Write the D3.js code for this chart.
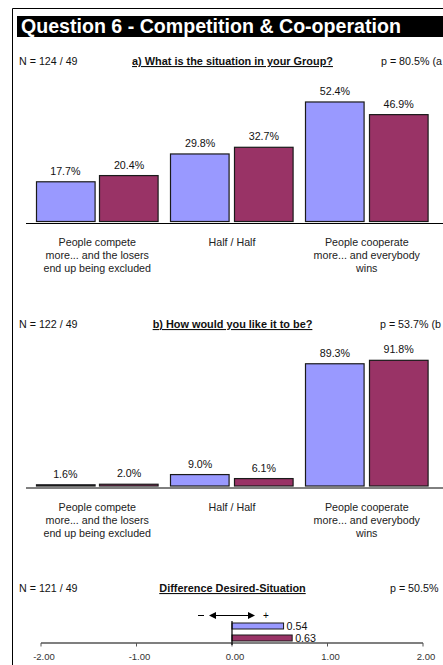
<!DOCTYPE html>
<html><head><meta charset="utf-8">
<script src="https://cdn.jsdelivr.net/npm/d3@7"></script>
<style>
html,body{margin:0;padding:0;background:#fff;overflow:hidden}
svg{display:block}
text{font-family:"Liberation Sans",Arial,sans-serif;fill:#111}
</style></head><body>
<script>
// ---- data ----
const title = "Question 6 - Competition & Co-operation";
const categories = [
  ["People compete","more... and the losers","end up being excluded"],
  ["Half / Half"],
  ["People cooperate","more... and everybody","wins"]
];
const seriesNames = ["Group A","Group B"];
const situationA = [17.7, 29.8, 52.4];
const situationB = [20.4, 32.7, 46.9];
const desiredA = [1.6, 9.0, 89.3];
const desiredB = [2.0, 6.1, 91.8];
const diffValues = [0.54, 0.63];
const diffTicks = [-2, -1, 0, 1, 2];
const headers = [
  {n:"N = 124 / 49", q:"a) What is the situation in your Group?", p:"p = 80.5% (a"},
  {n:"N = 122 / 49", q:"b) How would you like it to be?", p:"p = 53.7% (b"},
  {n:"N = 121 / 49", q:"Difference Desired-Situation", p:"p = 50.5%"}
];
const colors = ["#9999FF","#993366"];

const W = 443, H = 665, FS = 10.7;
const svg = d3.select("body").append("svg").attr("width",W).attr("height",H);

// frame
svg.append("line").attr("x1",12.5).attr("x2",W).attr("y1",8.5).attr("y2",8.5).attr("stroke","#000");
svg.append("line").attr("x1",12.5).attr("x2",12.5).attr("y1",8.5).attr("y2",H).attr("stroke","#000");

// title bar
svg.append("rect").attr("x",17).attr("y",16).attr("width",W-17).attr("height",21).attr("fill","#000");
svg.append("text").attr("x",21).attr("y",33).text(title)
  .style("fill","#fff").style("font-weight","bold").style("font-size","19.6px");

function header(h, y, pX){
  svg.append("text").attr("x",19).attr("y",y).style("font-size",FS+"px").text(h.n);
  svg.append("text").attr("x",232.5).attr("y",y).attr("text-anchor","middle")
    .style("font-size","10.9px").style("font-weight","bold").style("text-decoration","underline").text(h.q);
  svg.append("text").attr("x",pX).attr("y",y).style("font-size",FS+"px").text(h.p);
}

const x0 = d3.scaleBand().domain(d3.range(categories.length)).range([29.5,434.5]).paddingInner(0.085).paddingOuter(0.045);
const x1 = d3.scaleBand().domain([0,1]).range([0,x0.bandwidth()]).paddingInner(0.065);

function barChart(valsA, valsB, maxV, baseY, axisY, labelY){
  const y = d3.scaleLinear().domain([0,maxV]).range([baseY, baseY-138]);
  const g = svg.append("g");
  const data = [];
  valsA.forEach((v,i)=>data.push({c:i,s:0,v}));
  valsB.forEach((v,i)=>data.push({c:i,s:1,v}));
  g.selectAll("rect.bar").data(data).enter().append("rect")
    .attr("x",d=>Math.round(x0(d.c)+x1(d.s))+0.5)
    .attr("y",d=>y(d.v)+0.5)
    .attr("width",x1.bandwidth()-1)
    .attr("height",d=>Math.max(0,baseY-y(d.v)-1))
    .attr("fill",d=>colors[d.s]).attr("stroke","#1a1a1a").attr("stroke-width",1.2);
  g.selectAll("text.val").data(data).enter().append("text")
    .attr("x",d=>x0(d.c)+x1(d.s)+x1.bandwidth()/2)
    .attr("y",d=>y(d.v)-6.5)
    .attr("text-anchor","middle").style("font-size",FS+"px")
    .text(d=>d.v.toFixed(1)+"%");
  g.append("line").attr("x1",26).attr("x2",W).attr("y1",axisY).attr("y2",axisY).attr("stroke","#000");
  categories.forEach((lines,i)=>{
    const t = g.append("text").attr("text-anchor","middle").style("font-size",FS+"px").style("fill","#222");
    lines.forEach((l,k)=>t.append("tspan").attr("x",x0(i)+x0.bandwidth()/2).attr("y",labelY+k*13).text(l));
  });
}

header(headers[0], 65, 381);
barChart(situationA, situationB, 60, 222, 223.5, 246);
header(headers[1], 328, 380);
barChart(desiredA, desiredB, 100, 486.5, 488, 511);
header(headers[2], 592, 390);

// difference chart
const xd = d3.scaleLinear().domain([-2,2]).range([41,423]);
const axY = 643;
const dg = svg.append("g");
dg.append("line").attr("x1",xd(-2)).attr("x2",xd(2)).attr("y1",axY).attr("y2",axY).attr("stroke","#555").attr("stroke-width",1.3);
dg.selectAll("line.tick").data(diffTicks).enter().append("line")
  .attr("x1",d=>xd(d)).attr("x2",d=>xd(d)).attr("y1",axY).attr("y2",axY+3.5).attr("stroke","#555");
dg.selectAll("text.tick").data(diffTicks).enter().append("text")
  .attr("x",d=>xd(d)+3).attr("y",axY+17).attr("text-anchor","middle")
  .style("font-size","9.5px").style("fill","#333").text(d=>d.toFixed(2));
const yd = d3.scaleBand().domain([0,1]).range([621,643]).paddingInner(0.5).paddingOuter(0.1667);
dg.selectAll("rect.diff").data(diffValues).enter().append("rect")
  .attr("x",xd(0)).attr("y",(d,i)=>yd(i)).attr("width",d=>xd(d)-xd(0)).attr("height",yd.bandwidth())
  .attr("fill",(d,i)=>colors[i]).attr("stroke","#1a1a1a").attr("stroke-width",1);
dg.selectAll("text.diff").data(diffValues).enter().append("text")
  .attr("x",d=>xd(d)+3).attr("y",(d,i)=>yd(i)+yd.bandwidth()/2+4)
  .style("font-size",FS+"px").text(d=>d.toFixed(2));
dg.append("line").attr("x1",xd(0)).attr("x2",xd(0)).attr("y1",621).attr("y2",645).attr("stroke","#000").attr("stroke-width",1.2);
// direction arrow
const arY = 615.5;
dg.append("line").attr("x1",198).attr("x2",204).attr("y1",arY).attr("y2",arY).attr("stroke","#000");
dg.append("line").attr("x1",214).attr("x2",250).attr("y1",arY).attr("y2",arY).attr("stroke","#000");
dg.append("path").attr("d",`M209,${arY} L216,${arY-3.5} L216,${arY+3.5} Z`).attr("fill","#000");
dg.append("path").attr("d",`M255,${arY} L248,${arY-3.5} L248,${arY+3.5} Z`).attr("fill","#000");
dg.append("text").attr("x",263).attr("y",arY+3.5).style("font-size","10px").style("fill","#000").text("+");
</script>
</body></html>
